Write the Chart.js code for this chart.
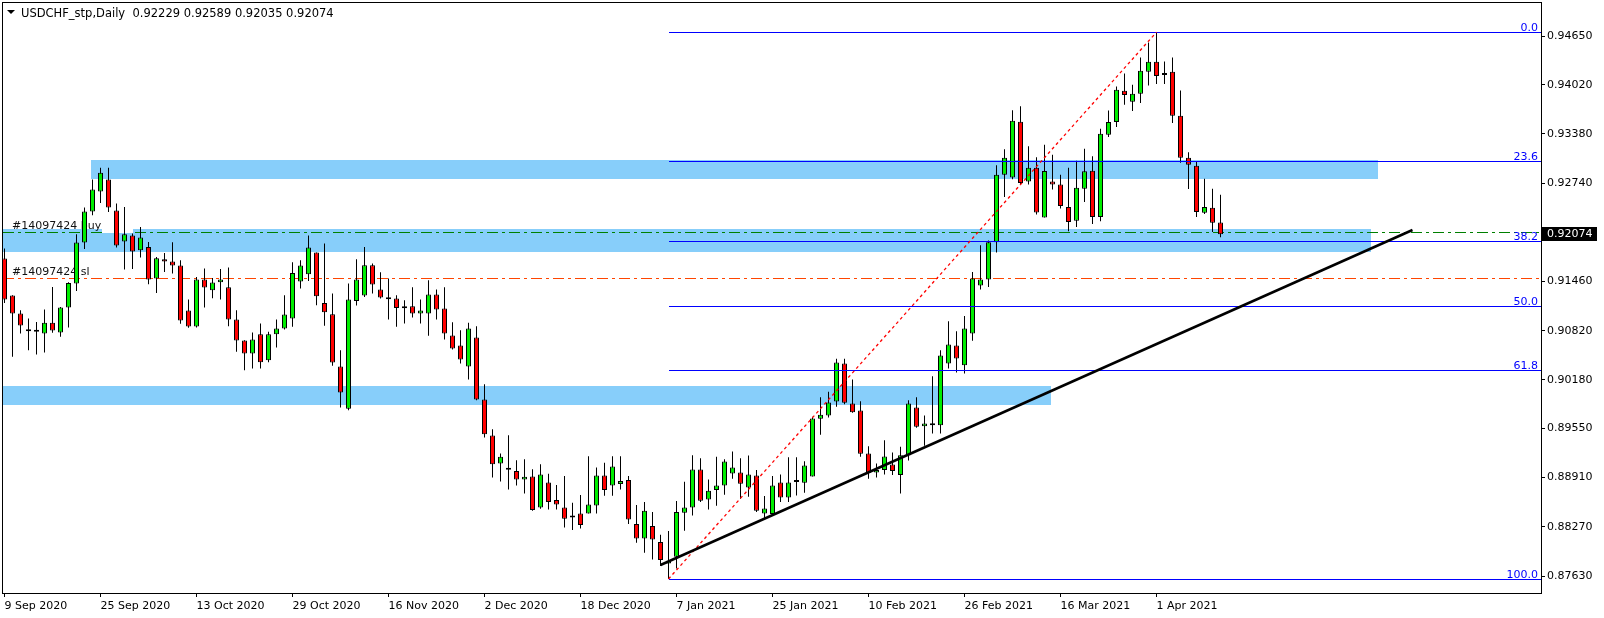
<!DOCTYPE html>
<html>
<head>
    <title>USDCHF_stp, Daily</title>
    <script src="https://cdn.jsdelivr.net/npm/chart.js"></script>
    <style>
        body { margin: 0; background: #fff; }
        canvas { display: block; }
    </style>
</head>
<body>
    <canvas id="chart" width="1604" height="618"></canvas>
    <script>
        const symbolTitle = 'USDCHF_stp,Daily';

        // daily candles, 9 Sep 2020 .. 12 Apr 2021 (one row = 12 bars)
        const opens = [
            0.91758,0.91277,0.91043,0.90814,0.90805,0.90783,0.90922,0.90796,0.91121,0.91433,0.91966,0.92369,
            0.92629,0.92785,0.92382,0.91979,0.92057,0.91866,0.91910,0.91498,0.91749,0.91719,0.91667,0.91082,
            0.90874,0.91485,0.91347,0.91451,0.91386,0.90965,0.90692,0.90523,0.90775,0.90437,0.90775,0.90848,
            0.90978,0.91459,0.91554,0.91836,0.91182,0.91035,0.90355,0.89804,0.91208,0.91277,0.91671,0.91355,
            0.91229,0.91238,0.91112,0.91138,0.91043,0.91043,0.91290,0.91108,0.90757,0.90627,0.90354,0.90731,
            0.89925,0.89457,0.89094,0.89011,0.88994,0.88886,0.88925,0.88522,0.88847,0.88617,0.88522,0.88392,
            0.88444,0.88444,0.88548,0.88938,0.88808,0.88825,0.88877,0.88305,0.88119,0.88279,0.88071,0.87794,
            0.87881,0.88453,0.88522,0.89016,0.88626,0.88748,0.88808,0.88964,0.88977,0.88782,0.88938,0.88444,
            0.88436,0.88847,0.88652,0.88851,0.88843,0.88925,0.89675,0.89718,0.89900,0.90394,0.89874,0.89783,
            0.89224,0.88977,0.89007,0.89081,0.88943,0.89202,0.89822,0.89579,0.89592,0.89592,0.90394,0.90628,
            0.90372,0.90784,0.91407,0.91485,0.91971,0.92850,0.92811,0.93539,0.92759,0.92941,0.92291,0.92759,
            0.92720,0.92429,0.92251,0.92667,0.92901,0.92299,0.93369,0.93534,0.93941,0.93798,0.93902,0.94188,
            0.94318,0.94145,0.94188,0.93616,0.93070,0.92966,0.92355,0.92420,0.92229
        ];
        const highs = [
            0.91888,0.91280,0.91087,0.90978,0.90935,0.91095,0.91390,0.91130,0.91451,0.92074,0.92421,0.92785,
            0.92941,0.92941,0.92473,0.92430,0.92083,0.92170,0.91975,0.91780,0.91832,0.91970,0.91736,0.91225,
            0.91520,0.91628,0.91507,0.91624,0.91641,0.91087,0.90697,0.90796,0.90913,0.90805,0.90965,0.91282,
            0.91710,0.91736,0.92057,0.91836,0.91953,0.91303,0.90567,0.91433,0.91749,0.91909,0.91693,0.91580,
            0.91498,0.91281,0.91216,0.91385,0.91225,0.91476,0.91355,0.91385,0.90930,0.90826,0.90922,0.90878,
            0.90125,0.89540,0.89224,0.89462,0.89137,0.89150,0.89020,0.89085,0.88959,0.88812,0.88929,0.88582,
            0.88682,0.89189,0.89042,0.89102,0.89189,0.89189,0.88929,0.88552,0.88591,0.88461,0.88166,0.88214,
            0.88604,0.88856,0.89202,0.89163,0.88886,0.89181,0.89150,0.89250,0.89163,0.89198,0.89008,0.88670,
            0.88930,0.88951,0.89176,0.89176,0.89124,0.89701,0.89956,0.90026,0.90454,0.90454,0.90186,0.89904,
            0.89319,0.89094,0.89397,0.89237,0.89311,0.89917,0.89956,0.89718,0.90229,0.90567,0.90944,0.90814,
            0.91013,0.91585,0.91932,0.91992,0.92971,0.93179,0.93686,0.93738,0.93218,0.93075,0.93240,0.93110,
            0.92850,0.92940,0.93031,0.93187,0.93088,0.93447,0.93685,0.93997,0.94166,0.94019,0.94374,0.94569,
            0.94703,0.94322,0.94374,0.93945,0.93140,0.93014,0.92797,0.92667,0.92589
        ];
        const lows = [
            0.91182,0.90480,0.90783,0.90567,0.90510,0.90536,0.90792,0.90740,0.90861,0.91338,0.91884,0.92321,
            0.92482,0.92365,0.91901,0.91615,0.91624,0.91771,0.91425,0.91312,0.91585,0.91563,0.90909,0.90857,
            0.90861,0.91121,0.91243,0.91225,0.90879,0.90545,0.90307,0.90329,0.90329,0.90411,0.90601,0.90835,
            0.90870,0.91368,0.91468,0.91152,0.90883,0.90363,0.89822,0.89787,0.91147,0.91260,0.91303,0.91238,
            0.90965,0.90870,0.90913,0.90991,0.90913,0.90753,0.90965,0.90705,0.90575,0.90393,0.90185,0.89917,
            0.89431,0.88912,0.88860,0.88756,0.88808,0.88704,0.88478,0.88504,0.88496,0.88496,0.88262,0.88227,
            0.88249,0.88444,0.88444,0.88673,0.88673,0.88756,0.88305,0.88063,0.87933,0.87846,0.87759,0.87591,
            0.87729,0.88219,0.88418,0.88592,0.88496,0.88544,0.88687,0.88895,0.88635,0.88661,0.88462,0.88366,
            0.88418,0.88592,0.88592,0.88678,0.88713,0.88925,0.89467,0.89692,0.89831,0.89865,0.89753,0.89181,
            0.88895,0.88912,0.88951,0.88943,0.88704,0.89133,0.89558,0.89324,0.89484,0.89484,0.90329,0.90277,
            0.90264,0.90688,0.91355,0.91390,0.91836,0.92560,0.92790,0.92720,0.92720,0.92330,0.92291,0.92655,
            0.92408,0.92113,0.92169,0.92494,0.92208,0.92243,0.93339,0.93469,0.93759,0.93677,0.93781,0.94010,
            0.94028,0.94028,0.93521,0.93005,0.92663,0.92299,0.92338,0.92104,0.92035
        ];
        const closes = [
            0.91225,0.91043,0.90887,0.90814,0.90805,0.90922,0.90822,0.91121,0.91442,0.91966,0.92369,0.92655,
            0.92876,0.92421,0.91927,0.92074,0.91849,0.92031,0.91485,0.91762,0.91719,0.91667,0.90952,0.90874,
            0.91485,0.91381,0.91446,0.91485,0.90965,0.90692,0.90523,0.90705,0.90411,0.90775,0.90848,0.91030,
            0.91572,0.91667,0.91901,0.91269,0.91061,0.90407,0.90017,0.91225,0.91485,0.91671,0.91420,0.91251,
            0.91229,0.91117,0.91112,0.91043,0.91082,0.91290,0.91095,0.90783,0.90588,0.90445,0.90848,0.89925,
            0.89475,0.89085,0.89180,0.89011,0.88886,0.88920,0.88487,0.88951,0.88591,0.88561,0.88374,0.88392,
            0.88292,0.88561,0.88938,0.88747,0.89055,0.88864,0.88366,0.88119,0.88478,0.88106,0.87837,0.87829,
            0.88461,0.88522,0.89016,0.88609,0.88739,0.88808,0.89120,0.89042,0.88830,0.88951,0.88479,0.88509,
            0.88808,0.88652,0.88847,0.88851,0.89068,0.89679,0.89727,0.89887,0.90407,0.89883,0.89761,0.89220,
            0.88973,0.89008,0.89185,0.88995,0.89202,0.89874,0.89571,0.89614,0.89592,0.90498,0.90641,0.90459,
            0.90849,0.91498,0.91485,0.91971,0.92850,0.93071,0.93552,0.92742,0.92941,0.92356,0.92898,0.92720,
            0.92443,0.92234,0.92680,0.92893,0.92299,0.93382,0.93534,0.93954,0.93885,0.93902,0.94201,0.94318,
            0.94132,0.94145,0.93616,0.93070,0.92979,0.92364,0.92429,0.92225,0.92074
        ];

        // x axis labels, one every 12 bars
        const dateLabels = ['9 Sep 2020', '25 Sep 2020', '13 Oct 2020', '29 Oct 2020', '16 Nov 2020', '2 Dec 2020',
            '18 Dec 2020', '7 Jan 2021', '25 Jan 2021', '10 Feb 2021', '26 Feb 2021', '16 Mar 2021', '1 Apr 2021'];
        const labelEvery = 12;
        const priceTicks = [0.94650, 0.94020, 0.93380, 0.92740, 0.91460, 0.90820, 0.90180, 0.89550, 0.88910, 0.88270, 0.87630];

        // supply/demand zones: [fromBar, toBar, top, bottom]
        const zones = [
            [10.8, 171.7, 0.93036, 0.92789],
            [-1, 170.8, 0.92148, 0.91845],
            [-1, 130.8, 0.90099, 0.89852]
        ];
        const labelMask = [12.2, 16.1, 0.92286, 0.92091];

        const orderTicket = '#14097424';
        const buyPrice = 0.9211;
        const stopPrice = 0.9150;

        const fibLow = [83, 0.87591];
        const fibHigh = [144, 0.94703];
        const fibLevels = [0, 23.6, 38.2, 50, 61.8, 100];

        const trendLine = [[82, 0.87773], [176, 0.92130]];

        const bodies = opens.map((o, i) => ({ x: i, y: [o, closes[i]] }));
        const wicks = lows.map((l, i) => ({ x: i, y: [l, highs[i]] }));
        const bodyColors = opens.map((o, i) => closes[i] >= o ? '#00ee00' : '#ff0000');

        const FONT = '11px "DejaVu Sans"';

        const overlay = {
            id: 'overlay',
            beforeDatasetsDraw(chart) {
                const { ctx, chartArea: a, scales: { x, y } } = chart;
                ctx.save();
                ctx.beginPath();
                ctx.rect(a.left, a.top, a.right - a.left, a.bottom - a.top);
                ctx.clip();

                ctx.fillStyle = '#87cefa';
                zones.forEach(z => {
                    const x0 = Math.round(x.getPixelForValue(z[0]));
                    const x1 = Math.round(x.getPixelForValue(z[1]));
                    const y0 = Math.round(y.getPixelForValue(z[2]));
                    const y1 = Math.round(y.getPixelForValue(z[3]));
                    ctx.fillRect(x0, y0, x1 - x0, y1 - y0);
                });

                // trade levels
                ctx.lineWidth = 1;
                ctx.setLineDash([11, 4, 3, 4]);
                [[buyPrice, '#008000'], [stopPrice, '#ff4500']].forEach(([p, c]) => {
                    const py = Math.round(y.getPixelForValue(p)) + 0.5;
                    ctx.strokeStyle = c;
                    ctx.beginPath();
                    ctx.moveTo(a.left, py);
                    ctx.lineTo(a.right, py);
                    ctx.stroke();
                });
                ctx.setLineDash([]);

                ctx.fillStyle = '#fff';
                const mx0 = Math.round(x.getPixelForValue(labelMask[0]));
                const mx1 = Math.round(x.getPixelForValue(labelMask[1]));
                const my0 = Math.round(y.getPixelForValue(labelMask[2]));
                const my1 = Math.round(y.getPixelForValue(labelMask[3]));
                ctx.fillRect(mx0, my0, mx1 - mx0, my1 - my0);

                ctx.font = FONT;
                ctx.fillStyle = '#111';
                ctx.textAlign = 'left';
                ctx.textBaseline = 'alphabetic';
                ctx.fillText(orderTicket + ' buy', a.left + 9, Math.round(y.getPixelForValue(buyPrice)) - 3);
                ctx.fillText(orderTicket + ' sl', a.left + 9, Math.round(y.getPixelForValue(stopPrice)) - 3);
                ctx.restore();
            },
            afterDatasetsDraw(chart) {
                const { ctx, chartArea: a, scales: { x, y } } = chart;
                ctx.save();
                ctx.beginPath();
                ctx.rect(a.left, a.top, a.right - a.left, a.bottom - a.top);
                ctx.clip();

                // fibonacci retracement
                const fx = Math.round(x.getPixelForValue(fibLow[0]));
                ctx.strokeStyle = '#0000ff';
                ctx.fillStyle = '#0000ff';
                ctx.lineWidth = 1;
                ctx.font = FONT;
                ctx.textAlign = 'right';
                fibLevels.forEach(lv => {
                    const p = fibHigh[1] - (fibHigh[1] - fibLow[1]) * lv / 100;
                    const py = Math.round(y.getPixelForValue(p)) + 0.5;
                    ctx.beginPath();
                    ctx.moveTo(fx, py);
                    ctx.lineTo(a.right, py);
                    ctx.stroke();
                    ctx.fillText(lv.toFixed(1), a.right - 3, py - 2);
                });

                ctx.strokeStyle = '#ff0000';
                ctx.lineWidth = 1.3;
                ctx.setLineDash([3, 3]);
                ctx.beginPath();
                ctx.moveTo(x.getPixelForValue(fibLow[0]), y.getPixelForValue(fibLow[1]));
                ctx.lineTo(x.getPixelForValue(fibHigh[0]), y.getPixelForValue(fibHigh[1]));
                ctx.stroke();
                ctx.setLineDash([]);

                // trend line
                ctx.strokeStyle = '#000';
                ctx.lineWidth = 2.5;
                ctx.beginPath();
                ctx.moveTo(x.getPixelForValue(trendLine[0][0]), y.getPixelForValue(trendLine[0][1]));
                ctx.lineTo(x.getPixelForValue(trendLine[1][0]), y.getPixelForValue(trendLine[1][1]));
                ctx.stroke();
                ctx.restore();
            },
            afterDraw(chart) {
                const { ctx, chartArea: a, scales: { y } } = chart;
                const last = closes.length - 1;
                ctx.save();
                ctx.strokeStyle = '#000';
                ctx.lineWidth = 1;
                ctx.strokeRect(a.left - 0.5, a.top - 0.5, a.right - a.left + 1, a.bottom - a.top + 1);

                // current price tag
                const py = Math.round(y.getPixelForValue(closes[last]));
                ctx.fillStyle = '#000';
                ctx.fillRect(a.right + 1, py - 7, 55, 14);
                ctx.fillStyle = '#fff';
                ctx.font = FONT;
                ctx.textAlign = 'left';
                ctx.textBaseline = 'middle';
                ctx.fillText(closes[last].toFixed(5), a.right + 6, py);

                // header
                ctx.fillStyle = '#000';
                ctx.beginPath();
                ctx.moveTo(7, 10);
                ctx.lineTo(15, 10);
                ctx.lineTo(11, 14);
                ctx.closePath();
                ctx.fill();
                ctx.font = '11.5px "DejaVu Sans"';
                ctx.textBaseline = 'alphabetic';
                const ohlc = [opens[last], highs[last], lows[last], closes[last]].map(v => v.toFixed(5)).join(' ');
                ctx.fillText(symbolTitle + '  ' + ohlc, 21, 17);
                ctx.restore();
            }
        };

        new Chart(document.getElementById('chart').getContext('2d'), {
            type: 'bar',
            data: {
                datasets: [
                    {
                        label: 'body', data: bodies, backgroundColor: bodyColors,
                        borderColor: '#000', borderWidth: 1, borderSkipped: false,
                        barThickness: 5, minBarLength: 2, grouped: false, inflateAmount: 0, order: 0
                    },
                    {
                        label: 'wick', data: wicks, backgroundColor: '#000',
                        borderWidth: 0, barThickness: 1, grouped: false, inflateAmount: 0, order: 1
                    }
                ]
            },
            options: {
                responsive: false,
                animation: false,
                layout: { padding: { left: 3, top: 3, right: 0, bottom: 0 } },
                plugins: { legend: { display: false }, tooltip: { enabled: false } },
                scales: {
                    x: {
                        type: 'linear', min: -0.1875, max: 192.0625, offset: false,
                        grid: { drawOnChartArea: false, offset: false, tickLength: 4, color: '#000' },
                        border: { display: false },
                        afterBuildTicks: s => { s.ticks = dateLabels.map((_, k) => ({ value: k * labelEvery })); },
                        afterFit: s => { s.height = 25; s.paddingLeft = 0; s.paddingRight = 0; },
                        ticks: {
                            align: 'start', maxRotation: 0, autoSkip: false, padding: 3, color: '#000',
                            font: { family: 'DejaVu Sans', size: 11 },
                            callback: v => dateLabels[Math.round(v / labelEvery)]
                        }
                    },
                    y: {
                        position: 'right', min: 0.87409, max: 0.95082,
                        grid: { drawOnChartArea: false, tickLength: 4, color: '#000' },
                        border: { display: false },
                        afterBuildTicks: s => { s.ticks = priceTicks.map(v => ({ value: v })); },
                        afterFit: s => { s.width = 63; s.paddingTop = 0; s.paddingBottom = 0; },
                        ticks: {
                            padding: 2, color: '#000',
                            font: { family: 'DejaVu Sans', size: 11 },
                            callback: v => v.toFixed(5)
                        }
                    }
                }
            },
            plugins: [overlay]
        });
    </script>
</body>
</html>
